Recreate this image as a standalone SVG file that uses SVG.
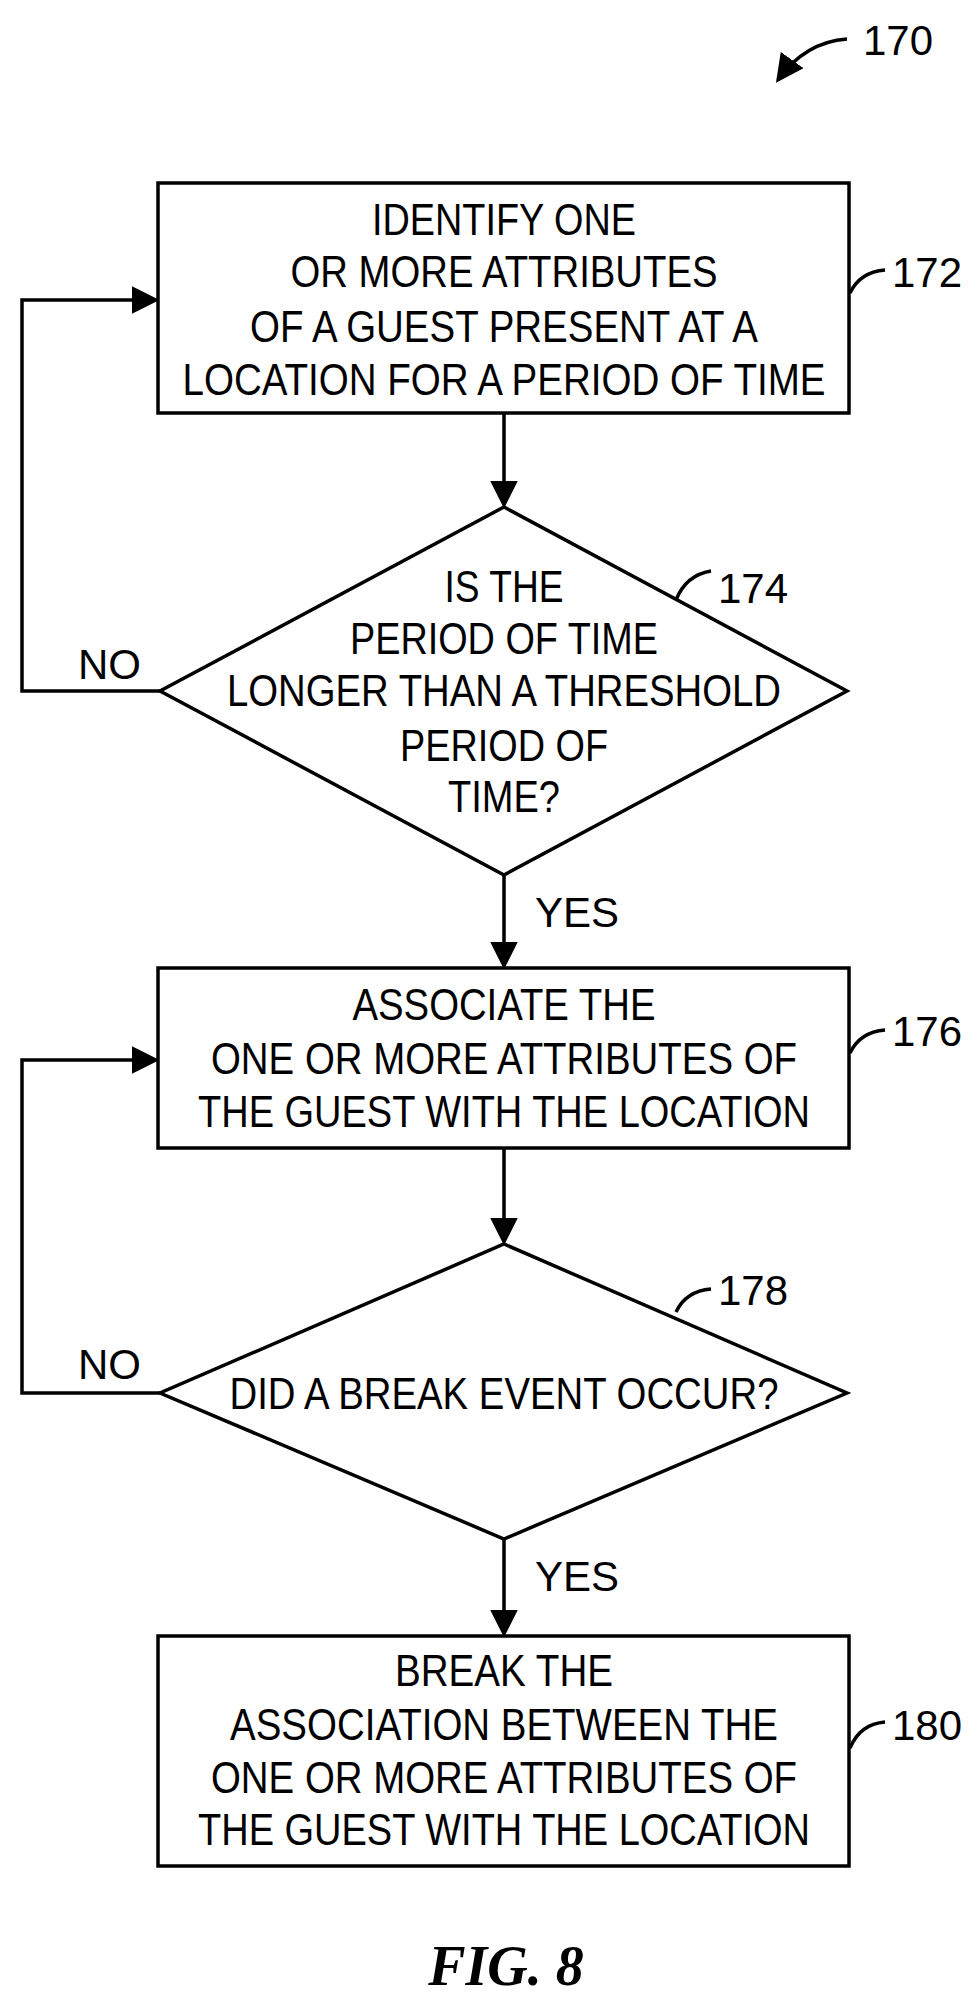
<svg xmlns="http://www.w3.org/2000/svg" width="973" height="2009" viewBox="0 0 973 2009">
<style>
.s{fill:none;stroke:#000;stroke-width:3.5}
.t{font-family:"Liberation Sans",Arial,sans-serif;font-size:44px;text-anchor:middle;fill:#000}
.l{font-family:"Liberation Sans",Arial,sans-serif;font-size:42px;fill:#000}
</style>
<defs><marker id="a" markerWidth="8" markerHeight="8" refX="7" refY="4" orient="auto" markerUnits="strokeWidth"><path d="M0,0 L8,4 L0,8 Z" fill="#000"/></marker></defs>
<rect width="973" height="2009" fill="#fff"/>
<g id="label170"><path class="s" d="M847,39 Q805,42 778,80" marker-end="url(#a)"/><text class="l" x="863" y="55">170</text></g>
<g id="n172"><rect class="s" x="158" y="183" width="691" height="230"/>
<text class="t" x="504" y="235" textLength="264" lengthAdjust="spacingAndGlyphs">IDENTIFY ONE</text>
<text class="t" x="504" y="287" textLength="427" lengthAdjust="spacingAndGlyphs">OR MORE ATTRIBUTES</text>
<text class="t" x="504" y="342" textLength="508" lengthAdjust="spacingAndGlyphs">OF A GUEST PRESENT AT A</text>
<text class="t" x="504" y="395" textLength="643" lengthAdjust="spacingAndGlyphs">LOCATION FOR A PERIOD OF TIME</text>
<path class="s" d="M850,293 Q860,272 885,270"/><text class="l" x="892" y="287">172</text></g>
<g id="n174"><path class="s" d="M504,507 L847,691 L504,875 L160,691 Z"/>
<text class="t" x="504" y="602" textLength="119" lengthAdjust="spacingAndGlyphs">IS THE</text>
<text class="t" x="504" y="654" textLength="308" lengthAdjust="spacingAndGlyphs">PERIOD OF TIME</text>
<text class="t" x="504" y="706" textLength="554" lengthAdjust="spacingAndGlyphs">LONGER THAN A THRESHOLD</text>
<text class="t" x="504" y="761" textLength="208" lengthAdjust="spacingAndGlyphs">PERIOD OF</text>
<text class="t" x="504" y="812" textLength="112" lengthAdjust="spacingAndGlyphs">TIME?</text>
<path class="s" d="M676,600 Q686,575 711,571"/><text class="l" x="718" y="603">174</text></g>
<g id="n176"><rect class="s" x="158" y="968" width="691" height="180"/>
<text class="t" x="504" y="1020" textLength="303" lengthAdjust="spacingAndGlyphs">ASSOCIATE THE</text>
<text class="t" x="504" y="1074" textLength="586" lengthAdjust="spacingAndGlyphs">ONE OR MORE ATTRIBUTES OF</text>
<text class="t" x="504" y="1127" textLength="612" lengthAdjust="spacingAndGlyphs">THE GUEST WITH THE LOCATION</text>
<path class="s" d="M850,1053 Q860,1032 885,1030"/><text class="l" x="892" y="1046">176</text></g>
<g id="n178"><path class="s" d="M504,1244 L847,1393 L504,1539 L160,1393 Z"/>
<text class="t" x="504" y="1409" textLength="549" lengthAdjust="spacingAndGlyphs">DID A BREAK EVENT OCCUR?</text>
<path class="s" d="M676,1312 Q686,1291 711,1289"/><text class="l" x="718" y="1305">178</text></g>
<g id="n180"><rect class="s" x="158" y="1636" width="691" height="230"/>
<text class="t" x="504" y="1686" textLength="218" lengthAdjust="spacingAndGlyphs">BREAK THE</text>
<text class="t" x="504" y="1740" textLength="548" lengthAdjust="spacingAndGlyphs">ASSOCIATION BETWEEN THE</text>
<text class="t" x="504" y="1793" textLength="586" lengthAdjust="spacingAndGlyphs">ONE OR MORE ATTRIBUTES OF</text>
<text class="t" x="504" y="1845" textLength="612" lengthAdjust="spacingAndGlyphs">THE GUEST WITH THE LOCATION</text>
<path class="s" d="M850,1748 Q860,1724 885,1722"/><text class="l" x="892" y="1740">180</text></g>
<g id="connectors">
<path class="s" d="M504,413 L504,505" marker-end="url(#a)"/>
<path class="s" d="M504,875 L504,966" marker-end="url(#a)"/>
<path class="s" d="M504,1148 L504,1242" marker-end="url(#a)"/>
<path class="s" d="M504,1539 L504,1634" marker-end="url(#a)"/>
<path class="s" d="M160,691 L22,691 L22,300 L156,300" marker-end="url(#a)"/>
<path class="s" d="M160,1393 L22,1393 L22,1060 L156,1060" marker-end="url(#a)"/>
<text class="l" x="78" y="679">NO</text>
<text class="l" x="78" y="1379">NO</text>
<text class="l" x="535" y="927">YES</text>
<text class="l" x="535" y="1591">YES</text>
</g>
<text x="506" y="1985" font-family="Liberation Serif,serif" font-style="italic" font-weight="bold" font-size="56" text-anchor="middle">FIG. 8</text>
</svg>
